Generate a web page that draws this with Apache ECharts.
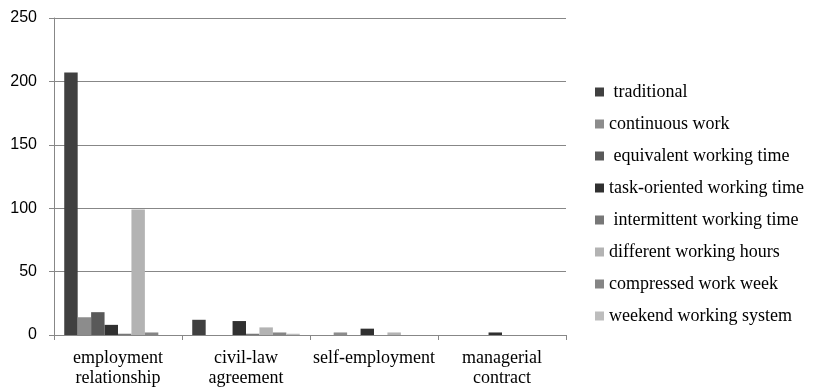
<!DOCTYPE html>
<html>
<head>
<meta charset="utf-8">
<script src="https://cdn.jsdelivr.net/npm/echarts@6/dist/echarts.min.js"></script>
<style>
  html, body { margin: 0; padding: 0; background: #fff; }
  #chart { width: 814px; height: 388px; }
</style>
</head>
<body>
<div id="chart"></div>
<script>
const categories = ['employment\nrelationship', 'civil-law\nagreement', 'self-employment', 'managerial\ncontract']
const seriesNames = [
  ' traditional',
  'continuous work',
  ' equivalent working time',
  'task-oriented working time',
  ' intermittent working time',
  'different working hours',
  'compressed work week',
  'weekend working system'
]
const seriesColors = ['#404040', '#8c8c8c', '#595959', '#303030', '#777777', '#b3b3b3', '#858585', '#bdbdbd']

const traditional = [207, 12, 0, 0]
const continuousWork = [14, 0, 2, 0]
const equivalentTime = [18, 0, 0, 0]
const taskOriented = [8, 11, 5, 2]
const intermittentTime = [1, 1, 0, 0]
const differentHours = [99, 6, 2, 0]
const compressedWeek = [2, 2, 0, 0]
const weekendSystem = [0, 1, 0, 0]

const seriesValues = [traditional, continuousWork, equivalentTime, taskOriented,
  intermittentTime, differentHours, compressedWeek, weekendSystem]

const chart = echarts.init(document.getElementById('chart'))
chart.setOption({
  animation: false,
  color: seriesColors,
  grid: { left: 54, right: 248, top: 18, bottom: 53 },
  legend: {
    orient: 'vertical',
    left: 590,
    top: 78,
    icon: 'rect',
    itemWidth: 9,
    itemHeight: 9,
    itemGap: 14,
    textStyle: { fontFamily: 'Liberation Serif', fontSize: 18, color: '#000', lineHeight: 18 },
    data: seriesNames
  },
  xAxis: {
    type: 'category',
    data: categories,
    axisLine: { lineStyle: { color: '#878787', width: 1 } },
    axisTick: { show: true, length: 5, lineStyle: { color: '#878787' } },
    axisLabel: { fontFamily: 'Liberation Serif', fontSize: 18, color: '#000', lineHeight: 20, margin: 13, interval: 0 }
  },
  yAxis: {
    type: 'value',
    min: 0,
    max: 250,
    interval: 50,
    axisLine: { show: true, lineStyle: { color: '#878787', width: 1 } },
    axisTick: { show: true, length: 5, lineStyle: { color: '#878787' } },
    splitLine: { lineStyle: { color: '#878787', width: 1 } },
    axisLabel: { fontFamily: 'Liberation Sans', fontSize: 16, color: '#000', margin: 17 }
  },
  series: seriesNames.map((name, i) => ({
    name,
    type: 'bar',
    data: seriesValues[i],
    barGap: '0%',
    barCategoryGap: '16%'
  }))
})
</script>
</body>
</html>
